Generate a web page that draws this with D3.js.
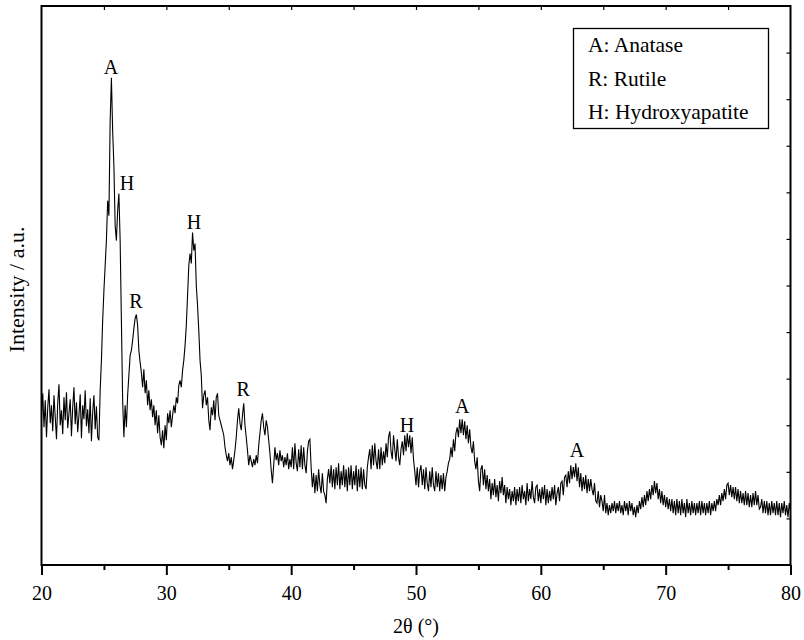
<!DOCTYPE html>
<html>
<head>
<meta charset="utf-8">
<script src="https://cdn.jsdelivr.net/npm/d3@7"></script>
<style>
  html, body { margin: 0; padding: 0; background: #fff; }
  svg { display: block; }
  text { font-family: "Liberation Serif", "DejaVu Serif", serif; fill: #000; }
</style>
</head>
<body>
<svg id="chart" width="804" height="640"></svg>
<script>
// ---- data ----
const twoThetaStart = 20;   // degrees
const twoThetaStep = 0.1;   // degrees per sample
const intensity = [
  150,172,138,165,128,158,176,142,160,134,170,148,126,162,181,140,155,131,168,145,
  173,137,152,166,129,158,178,141,163,133,150,171,127,160,146,175,139,156,132,167,
  124,153,170,136,159,128,125,175,205,245,275,300,325,365,350,445,488,435,400,340,
  325,355,372,325,245,165,128,160,138,170,190,210,215,225,237,247,251,240,215,203,
  193,178,196,172,185,160,175,155,166,148,160,140,155,132,150,128,120,135,117,140,
  125,152,142,155,138,150,160,152,168,162,180,185,178,195,205,220,240,270,300,312,
  302,333,315,322,280,260,235,205,190,157,170,175,160,168,145,135,158,150,165,145,
  168,172,150,145,140,135,130,118,110,104,112,100,108,96,105,115,128,145,157,142,
  135,150,162,140,128,115,100,110,104,98,106,100,110,102,120,132,145,152,138,130,
  145,138,125,112,95,82,100,118,105,112,100,115,104,110,98,108,100,112,96,106,
  98,118,96,122,102,94,116,98,120,96,118,100,92,114,124,126,98,78,92,72,
  90,74,96,80,72,92,74,70,62,86,96,82,100,78,96,76,98,80,102,76,
  94,80,100,78,96,74,98,80,100,76,94,80,100,74,96,78,98,76,96,80,
  76,98,108,116,96,120,100,122,104,96,116,96,118,100,114,102,122,108,128,134,
  114,106,130,116,104,126,108,100,116,124,110,130,114,132,118,130,112,128,106,94,
  80,98,78,94,100,80,96,76,98,82,74,94,78,98,80,74,94,78,92,74,
  90,76,92,74,88,94,102,106,118,108,126,114,132,138,128,146,132,146,130,144,
  126,140,122,136,118,112,124,104,96,108,84,74,96,100,80,96,76,90,74,86,
  66,82,70,86,68,80,64,84,72,88,70,80,62,78,66,76,60,74,64,78,
  60,76,64,78,62,80,66,74,60,82,64,76,66,84,68,62,78,80,64,76,
  62,78,66,80,60,76,62,74,64,78,66,80,60,72,78,64,82,84,70,88,
  90,78,94,82,100,86,98,88,102,84,98,78,92,74,88,76,90,72,86,74,
  86,76,70,82,64,62,74,58,70,64,54,70,52,62,50,60,52,62,54,64,
  52,62,54,64,52,60,50,64,54,62,50,64,54,62,50,58,48,60,52,64,
  56,68,58,70,60,74,64,76,66,80,70,84,72,82,66,76,62,74,60,70,
  58,68,56,66,54,66,52,64,50,66,52,64,50,66,52,62,48,66,52,62,
  50,64,52,62,50,62,52,64,50,64,52,62,50,62,52,64,50,62,54,64,
  54,66,60,70,60,72,64,76,66,80,82,70,80,68,78,66,78,64,76,62,
  74,62,72,60,74,60,72,58,70,58,72,60,74,60,70,56,58,66,52,64,
  52,64,50,62,50,64,52,62,50,64,50,62,48,62,52,64,50,60,48,62,
  54
];
const peakLabels = ["A", "H", "R", "H", "R", "H", "A", "A"];
const peakLabelAngle = [25.57, 26.85, 27.57, 32.22, 36.15, 49.28, 53.7, 62.9];
const peakLabelIntensity = [492, 376, 257, 337, 169, 133, 152, 108];
const legendItems = ["A: Anatase", "R: Rutile", "H: Hydroxyapatite"];
const xMajorTicks = [20, 30, 40, 50, 60, 70, 80];
const xMinorTicks = [25, 35, 45, 55, 65, 75];
const xTopTicks = [25, 30, 35, 40, 45, 50, 55, 60, 65, 70, 75];
const yMax = 560;
const yTickCount = 12;
const xLabel = "2θ (°)";
const yLabel = "Intensity / a.u.";

// ---- layout ----
const svg = d3.select("#chart");
const L = 41.5, R = 790.5, T = 6, B = 565;
const x = d3.scaleLinear().domain([20, 80]).range([L, R]);
const y = d3.scaleLinear().domain([0, yMax]).range([B, T]);

const points = intensity.map((v, i) => [twoThetaStart + i * twoThetaStep, v]);

// trace
svg.append("path")
  .datum(points)
  .attr("fill", "none")
  .attr("stroke", "#000")
  .attr("stroke-width", 1.1)
  .attr("stroke-linejoin", "miter")
  .attr("d", d3.line().x(d => x(d[0])).y(d => y(d[1])));

// bottom axis (major + minor, outward)
const gB = svg.append("g").attr("transform", `translate(0,${B})`)
  .call(d3.axisBottom(x).tickValues(xMajorTicks).tickSize(10).tickPadding(11).tickFormat(d3.format("d")));
gB.select(".domain").remove();
gB.selectAll("line").attr("stroke", "#000").attr("stroke-width", 2);
gB.selectAll("text").attr("font-size", 20).attr("font-family", "Liberation Serif, serif");
const gBm = svg.append("g").attr("transform", `translate(0,${B})`)
  .call(d3.axisBottom(x).tickValues(xMinorTicks).tickSize(5).tickFormat(""));
gBm.select(".domain").remove();
gBm.selectAll("line").attr("stroke", "#000").attr("stroke-width", 2);

// top axis (inward ticks)
const gT = svg.append("g").attr("transform", `translate(0,${T})`)
  .call(d3.axisTop(x).tickValues(xTopTicks).tickSize(-4).tickFormat(""));
gT.select(".domain").remove();
gT.selectAll("line").attr("stroke", "#000").attr("stroke-width", 1.2);

// right axis (inward ticks)
const yTicks = d3.range(1, yTickCount).map(k => k * yMax / yTickCount);
const gR = svg.append("g").attr("transform", `translate(${R},0)`)
  .call(d3.axisRight(y).tickValues(yTicks).tickSize(-4).tickFormat(""));
gR.select(".domain").remove();
gR.selectAll("line").attr("stroke", "#000").attr("stroke-width", 1.2);

// frame
svg.append("rect")
  .attr("x", L).attr("y", T).attr("width", R - L).attr("height", B - T)
  .attr("fill", "none").attr("stroke", "#000").attr("stroke-width", 2);

// axis titles
svg.append("text")
  .attr("x", (L + R) / 2).attr("y", 633)
  .attr("text-anchor", "middle").attr("font-size", 20)
  .text(xLabel);
svg.append("text")
  .attr("transform", `translate(24,${(T + B) / 2 + 4}) rotate(-90)`)
  .attr("text-anchor", "middle").attr("font-size", 22)
  .text(yLabel);

// peak labels
svg.append("g").selectAll("text")
  .data(peakLabels)
  .join("text")
  .attr("x", (d, i) => x(peakLabelAngle[i]))
  .attr("y", (d, i) => y(peakLabelIntensity[i]))
  .attr("text-anchor", "middle")
  .attr("font-size", 20)
  .text(d => d);

// legend
const lg = svg.append("g");
lg.append("rect")
  .attr("x", 573.5).attr("y", 28.5).attr("width", 195).attr("height", 100)
  .attr("fill", "#fff").attr("stroke", "#000").attr("stroke-width", 1.3);
lg.selectAll("text.leg")
  .data(legendItems)
  .join("text")
  .attr("class", "leg")
  .attr("x", 588)
  .attr("y", (d, i) => 52 + i * 33.5)
  .attr("font-size", 21.5)
  .text(d => d);
</script>
</body>
</html>
